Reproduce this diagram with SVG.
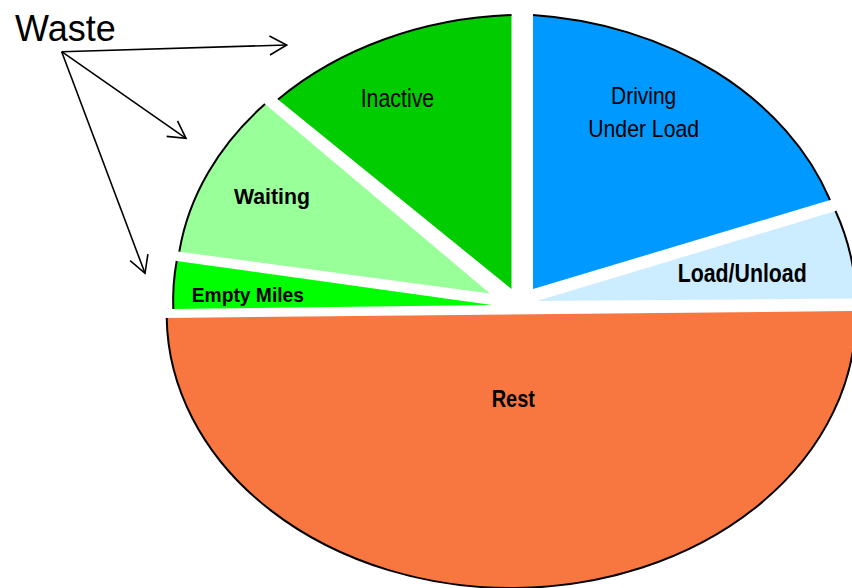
<svg xmlns="http://www.w3.org/2000/svg" width="852" height="588" viewBox="0 0 852 588">
  <style>
    .arc { fill: none; stroke: #000; stroke-width: 2; }
    .lbl { font-family: "Liberation Sans", Arial, sans-serif; fill: #000; }
    .b { font-weight: bold; }
    .conn { stroke: #000; stroke-width: 1.6; fill: none; }
  </style>
  <defs>
    <marker id="arr" markerUnits="userSpaceOnUse" markerWidth="24" markerHeight="24" viewBox="-20 -12 24 24" refX="0" refY="0" orient="auto">
      <path d="M -17,-9.5 L 0,0 L -17,9.5" fill="none" stroke="#000" stroke-width="1.6"/>
    </marker>
  </defs>
  <rect x="0" y="0" width="852" height="588" fill="#fff"/>

  <g id="rest">
    <path d="M 166.7,318 L 856,311 A 344 273 0 0 1 166.7,318 Z" fill="#F8763F"/>
    <path class="arc" d="M 856,311 A 344 273 0 0 1 166.7,318"/>
    <text class="lbl b" x="491.7" y="406.7" font-size="24" textLength="43.3" lengthAdjust="spacingAndGlyphs">Rest</text>
  </g>

  <g id="load-unload">
    <path d="M 537,301 L 835.5,211 A 344 274 0 0 1 856,298.5 Z" fill="#CCECFF"/>
    <path class="arc" d="M 835.5,211 A 344 274 0 0 1 856,298.5"/>
    <text class="lbl b" x="677.7" y="281.7" font-size="25" textLength="129" lengthAdjust="spacingAndGlyphs">Load/Unload</text>
  </g>

  <g id="driving">
    <path d="M 533,289 L 533,15 A 344 274 0 0 1 830,200 Z" fill="#0099FF"/>
    <path class="arc" d="M 533,15 A 344 274 0 0 1 830,200"/>
    <text class="lbl" x="611" y="104" font-size="24.5" textLength="65.3" lengthAdjust="spacingAndGlyphs">Driving</text>
    <text class="lbl" x="588.3" y="137.3" font-size="24.5" textLength="110.7" lengthAdjust="spacingAndGlyphs">Under Load</text>
  </g>

  <g id="inactive">
    <path d="M 511.5,289 L 278,99.5 A 344 274 0 0 1 511.5,15 Z" fill="#00CC00"/>
    <path class="arc" d="M 278,99.5 A 344 274 0 0 1 511.5,15"/>
    <text class="lbl" x="360.7" y="107.3" font-size="25.5" textLength="73.5" lengthAdjust="spacingAndGlyphs">Inactive</text>
  </g>

  <g id="waiting">
    <path d="M 490,293.5 L 179.3,251.7 A 344 274 0 0 1 265,104 Z" fill="#99FF99"/>
    <path class="arc" d="M 179.3,251.7 A 344 274 0 0 1 265,104"/>
    <text class="lbl b" x="234" y="204.3" font-size="22.5" textLength="76" lengthAdjust="spacingAndGlyphs">Waiting</text>
  </g>

  <g id="empty-miles">
    <path d="M 492,305 L 173.3,309 A 344 274 0 0 1 176.7,261 Z" fill="#00FF00"/>
    <path class="arc" d="M 173.3,309 A 344 274 0 0 1 176.7,261"/>
    <text class="lbl b" x="191.7" y="302.3" font-size="21" textLength="112.3" lengthAdjust="spacingAndGlyphs">Empty Miles</text>
  </g>

  <g id="waste">
    <text class="lbl" x="15" y="41" font-size="36">Waste</text>
  </g>

  <g id="connectors">
    <line class="conn" x1="61.7" y1="51.7" x2="286.7" y2="45" marker-end="url(#arr)"/>
    <line class="conn" x1="61.7" y1="51.7" x2="186" y2="138.3" marker-end="url(#arr)"/>
    <line class="conn" x1="61.7" y1="51.7" x2="145" y2="273.3" marker-end="url(#arr)"/>
  </g>
</svg>
